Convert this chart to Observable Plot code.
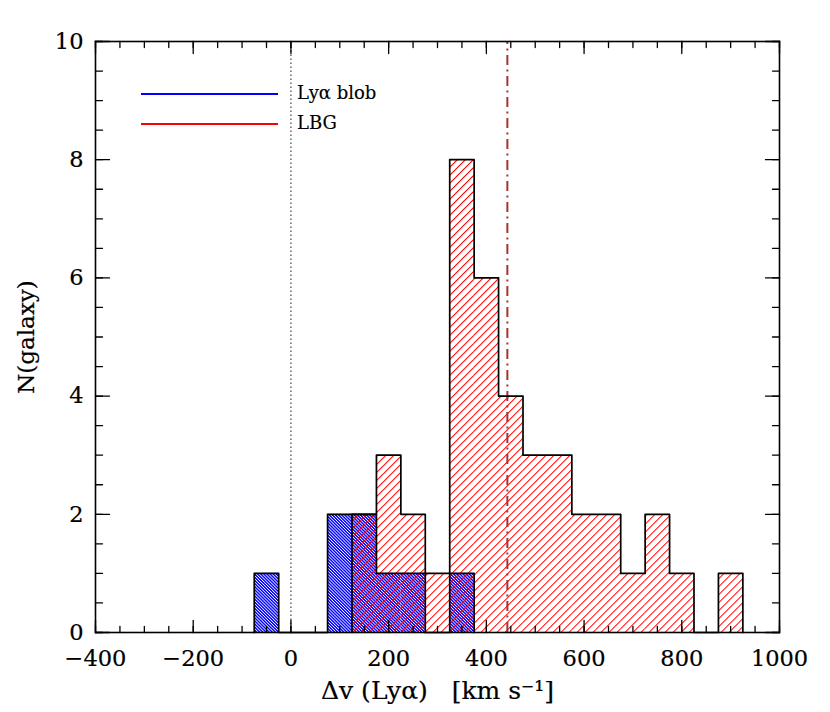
<!DOCTYPE html>
<html><head><meta charset="utf-8">
<script src="https://cdn.jsdelivr.net/npm/d3@7"></script>
<script src="https://cdn.jsdelivr.net/npm/@observablehq/plot@0.6"></script>
<style>
body{margin:0;background:#fff;}
#chart{position:relative;width:830px;height:712px;}
#chart svg text{stroke:#000;stroke-width:0.2px;}
.leg{position:absolute;left:141px;width:137px;height:0;}
.legtxt{position:absolute;left:297px;font-family:"DejaVu Serif",serif;font-size:18px;line-height:20px;color:#000;-webkit-text-stroke:0.15px #000;}
</style></head><body><div id="chart"></div>
<script>
// ---- data ----
const binWidth = 50;
const blobBinStarts = [-75, -25, 25, 75, 125, 175, 225, 275, 325];
const blobCounts    = [1, 0, 0, 2, 2, 1, 1, 0, 1];
const lbgBinStarts  = [125, 175, 225, 275, 325, 375, 425, 475, 525, 575, 625, 675, 725, 775, 825, 875];
const lbgCounts     = [2, 3, 2, 1, 8, 6, 4, 3, 3, 2, 2, 1, 2, 1, 0, 1];
const zeroLine = [0];
const lbgMeanLine = [443];
const xMajorTicks = [-400, -200, 0, 200, 400, 600, 800, 1000];
const xMinorTicks = d3.range(-400, 1001, 50);
const yMajorTicks = [0, 2, 4, 6, 8, 10];
const yMinorTicks = d3.range(0, 10.001, 0.5);
const legendLabels = ["Lyα blob", "LBG"];
const legendColors = ["#0000ff", "#ff0000"];
const xLabel = "Δv (Lyα)\u00a0\u00a0\u00a0[km s⁻¹]";
const yLabel = "N(galaxy)";

// ---- helpers ----
const bins = (starts, counts) => starts.map((s, i) => ({x1: s, x2: s + binWidth, n: counts[i]}));
function stepPoints(starts, counts) {
  const pts = [{x: starts[0], y: 0}];
  starts.forEach((s, i) => pts.push({x: s, y: counts[i]}));
  const end = starts[starts.length - 1] + binWidth;
  pts.push({x: end, y: counts[counts.length - 1]});
  pts.push({x: end, y: 0});
  return pts;
}
const blobBins = bins(blobBinStarts, blobCounts);
const lbgBins = bins(lbgBinStarts, lbgCounts);
const tickShape = {draw(ctx, l) { ctx.moveTo(0, 0); ctx.lineTo(0, -l); }};
const tickMarks = (vals, len, pos) => {
  const o = {shape: tickShape, anchor: "start", length: len, stroke: "black", strokeWidth: 1.3};
  if (pos === "bottom") return Plot.vector(vals, {...o, x: d => d, y: 0, rotate: 0});
  if (pos === "top") return Plot.vector(vals, {...o, x: d => d, y: 10, rotate: 180});
  if (pos === "left") return Plot.vector(vals, {...o, y: d => d, x: -400, rotate: 90});
  return Plot.vector(vals, {...o, y: d => d, x: 1000, rotate: -90});
};
const fmt = d => d < 0 ? "\u2212" + (-d) : String(d);

// pattern definitions rendered as a mark
function hatchDefs() {
  const defs = d3.create("svg:defs");
  const pb = defs.append("pattern").attr("id", "blobHatch").attr("patternUnits", "userSpaceOnUse")
    .attr("width", 2.2).attr("height", 2.2).attr("patternTransform", "rotate(-45)");
  pb.append("rect").attr("x", 0).attr("y", -1).attr("width", 2.2).attr("height", 4.4).style("fill", "#ffffff");
  pb.append("rect").attr("x", 0).attr("y", -1).attr("width", 1.4).attr("height", 4.4).style("fill", "#0000ff");
  const pr = defs.append("pattern").attr("id", "lbgHatch").attr("patternUnits", "userSpaceOnUse")
    .attr("width", 5.66).attr("height", 5.66).attr("patternTransform", "rotate(45)");
  pr.append("rect").attr("x", 0).attr("y", -1).attr("width", 1).attr("height", 7.7).style("fill", "#ff0000");
  return defs.node();
}

const plot = Plot.plot({
  width: 830, height: 712,
  marginLeft: 95, marginRight: 51, marginTop: 41, marginBottom: 80,
  style: {fontFamily: "DejaVu Serif", fontSize: "22px", background: "white", color: "black"},
  x: {domain: [-400, 1000], label: null},
  y: {domain: [0, 10], label: null},
  marks: [
    hatchDefs,
    Plot.rectY(blobBins, {x1: "x1", x2: "x2", y1: 0, y2: "n", fill: "url(#blobHatch)"}),
    Plot.rectY(lbgBins, {x1: "x1", x2: "x2", y1: 0, y2: "n", fill: "url(#lbgHatch)"}),
    Plot.ruleX(zeroLine, {x: d => d, y1: 0, y2: 10, stroke: "#666", strokeWidth: 1.5, strokeDasharray: "1.5,2.5"}),
    Plot.ruleX(lbgMeanLine, {x: d => d, y1: 0, y2: 10, stroke: "#a83232", strokeWidth: 2, strokeDasharray: "10,4.5,2,4.5"}),
    Plot.line(stepPoints(blobBinStarts, blobCounts), {x: "x", y: "y", curve: "step-after", stroke: "black", strokeWidth: 1.7}),
    Plot.line(stepPoints(lbgBinStarts, lbgCounts), {x: "x", y: "y", curve: "step-after", stroke: "black", strokeWidth: 1.7}),
    Plot.frame({stroke: "black", strokeWidth: 1.6}),
    tickMarks(xMinorTicks, 6, "bottom"), tickMarks(xMajorTicks, 12, "bottom"),
    tickMarks(xMinorTicks, 6, "top"), tickMarks(xMajorTicks, 12, "top"),
    tickMarks(yMinorTicks, 7, "left"), tickMarks(yMajorTicks, 14, "left"),
    tickMarks(yMinorTicks, 7, "right"), tickMarks(yMajorTicks, 14, "right"),
    Plot.axisX(xMajorTicks, {tickSize: 0, tickPadding: 18, fontSize: 22.5, tickFormat: fmt, label: null}),
    Plot.axisY(yMajorTicks, {tickSize: 0, tickPadding: 12, fontSize: 22.5, tickFormat: fmt, label: null}),
    Plot.text([xLabel], {text: d => d, frameAnchor: "bottom", lineAnchor: "middle", textAnchor: "middle", dy: 58, fontSize: 25}),
    Plot.text([yLabel], {text: d => d, frameAnchor: "left", lineAnchor: "middle", textAnchor: "middle", dx: -69, rotate: -90, fontSize: 23})
  ]
});

const chart = document.getElementById("chart");
chart.appendChild(plot);
legendLabels.forEach((lab, i) => {
  const y = 94 + i * 30;
  const ln = document.createElement("div");
  ln.className = "leg";
  ln.style.top = (y - 1) + "px";
  ln.style.borderTop = "2px solid " + legendColors[i];
  chart.appendChild(ln);
  const t = document.createElement("div");
  t.className = "legtxt";
  t.style.top = (y - 11) + "px";
  t.textContent = lab;
  chart.appendChild(t);
});
</script></body></html>
